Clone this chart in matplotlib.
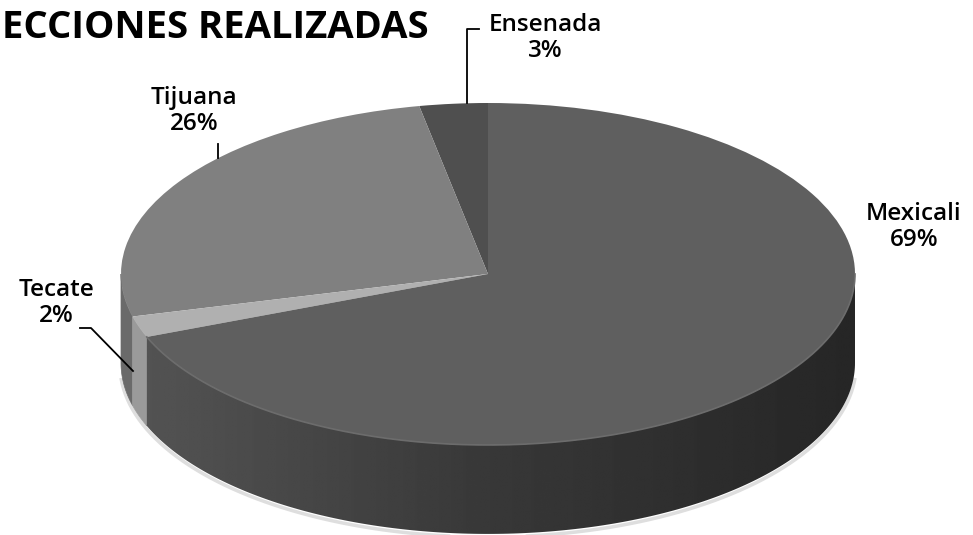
import matplotlib.pyplot as plt
import numpy as np
from matplotlib.patches import Polygon

# Data
labels = ['Ensenada', 'Tijuana', 'Tecate', 'Mexicali']
values = [3, 26, 2, 69]
top_colors = ['#4f4f4f', '#808080', '#b0b0b0', '#5f5f5f']
side_colors = ['#3a3a3a', '#6a6a6a', '#9a9a9a', None]  # None -> shaded gradient
title = 'ECCIONES REALIZADAS'

plt.rcParams['font.family'] = ['Open Sans', 'DejaVu Sans']

fig = plt.figure(figsize=(9.73, 5.35), dpi=100)
ax = fig.add_axes([0, 0, 1, 1])

# pixel scale of the squashed pie
rx, ry = 367.0, 171.0
cx, cy = 488.0, 535 - 274.0
depth = 0.52

xlim = (-cx / rx, (973 - cx) / rx)
ylim = (-cy / ry, (535 - cy) / ry)

wedges, _ = ax.pie(values, colors=top_colors, startangle=90, counterclock=True,
                   radius=1, wedgeprops=dict(linewidth=0, zorder=3))

# gradient for the dark side wall (lighter on the left, darker on the right)
gx = np.linspace(xlim[0], xlim[1], 400)
g = np.where(gx < 0, 56 - 29 * gx, 56 - 18 * gx)
g = np.clip(g, 30, 90) / 255
grad = np.tile(g, (2, 1))

# side wall of the cylinder (front half only)
for w, sc in zip(wedges, side_colors):
    t1, t2 = w.theta1, w.theta2
    for lo, hi in [(180, 360), (540, 720)]:
        a, b = max(t1, lo), min(t2, hi)
        if a >= b:
            continue
        tt = np.radians(np.linspace(a, b, 200))
        xs, ys = np.cos(tt), np.sin(tt)
        pts = np.column_stack([np.concatenate([xs, xs[::-1]]),
                               np.concatenate([ys, ys[::-1] - depth])])
        if sc is None:
            poly = Polygon(pts, closed=True, fc='none', ec='none', zorder=2)
            ax.add_patch(poly)
            im = ax.imshow(grad, cmap='gray', vmin=0, vmax=1, aspect='auto',
                           extent=(xlim[0], xlim[1], -1.6, 0.2), zorder=2,
                           interpolation='bilinear')
            im.set_clip_path(poly)
            # soft bevel where the top meets the wall
            ax.plot(xs, ys, color='#6c6c6c', lw=1.2, zorder=4)
        else:
            ax.add_patch(Polygon(pts, closed=True, fc=sc, ec=sc, lw=0.5, zorder=2))

# faint shadow under the pie
tt = np.radians(np.linspace(185, 355, 200))
ax.plot(np.cos(tt) * 1.003, np.sin(tt) * 1.008 - depth - 0.01, color='#dedede', lw=2.5, zorder=1)

ax.set_aspect('auto')
ax.set_xlim(*xlim)
ax.set_ylim(*ylim)
ax.axis('off')

def px2data(x, y):
    return (x - cx) / rx, (535 - y - cy) / ry

lab_kw = dict(fontsize=17.5, fontweight='semibold', ha='center', va='center',
              linespacing=1.15, zorder=5)

# label positions (pixel, centre of the two-line block)
lab_pos = {'Ensenada': (545, 38), 'Tijuana': (194, 111), 'Tecate': (56, 303), 'Mexicali': (914, 227)}
for lab, v in zip(labels, values):
    x, y = px2data(*lab_pos[lab])
    ax.text(x, y, f'{lab}\n{v}%', **lab_kw)

# leader lines
def leader(pts):
    d = [px2data(x, y) for x, y in pts]
    ax.plot([p[0] for p in d], [p[1] for p in d], color='black', lw=1.3, zorder=5, clip_on=False)

leader([(467, 103), (467, 29), (479, 29)])
leader([(218, 144), (218, 158)])
leader([(80, 328), (91, 328), (133, 371)])

fig.text(0.002, 1 - 38 / 535, title, fontsize=27.5, fontweight='bold', ha='left', va='baseline')

fig.savefig('out.png', dpi=100)
